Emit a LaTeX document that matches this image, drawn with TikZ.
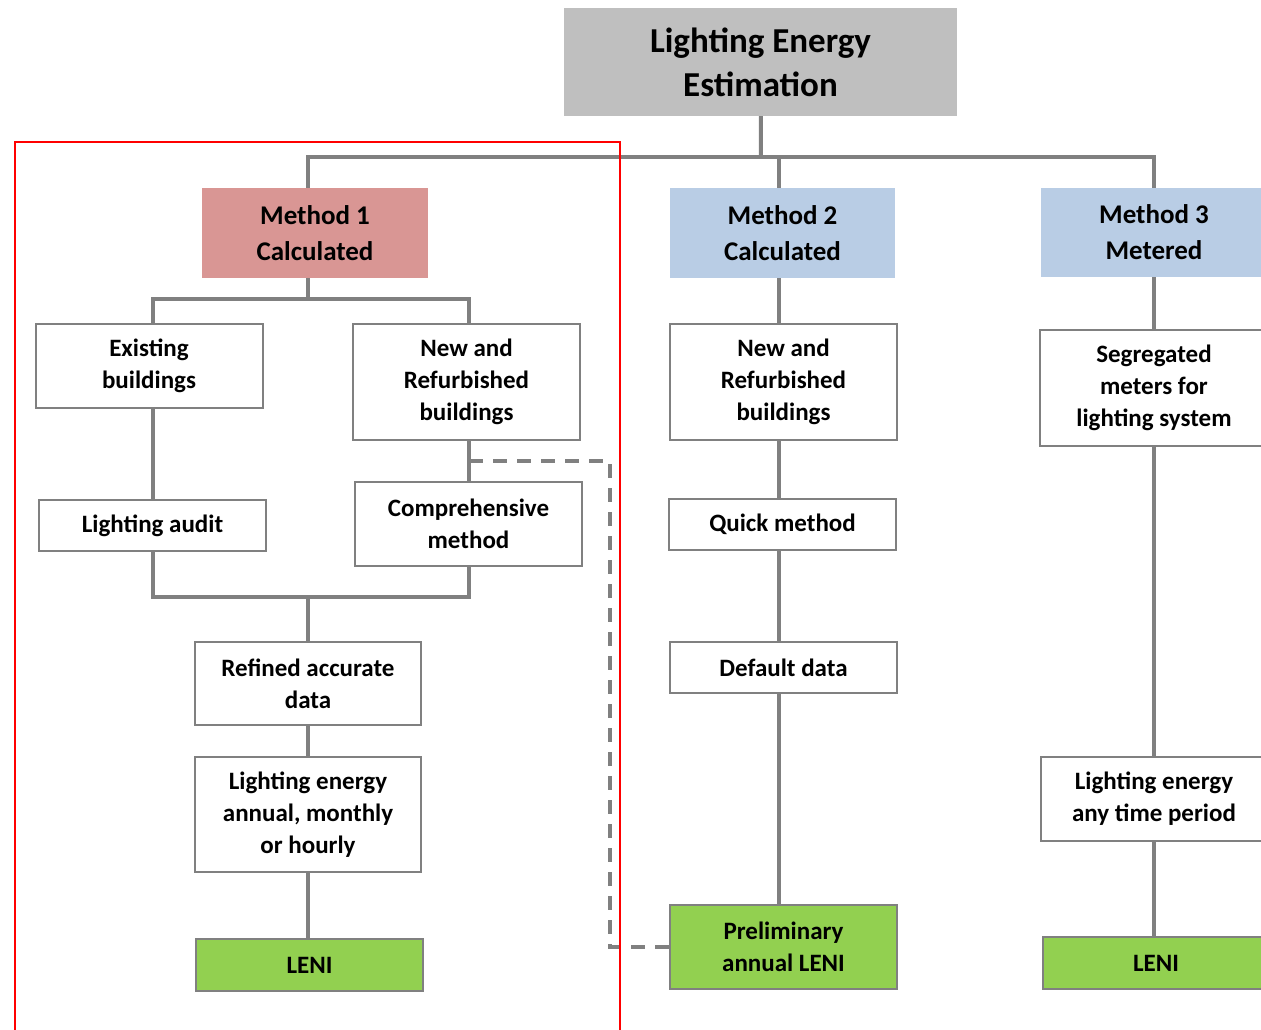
\documentclass[tikz,border=0pt]{standalone}
\usepackage{fontspec}
\setmainfont{Carlito}
\usetikzlibrary{positioning}
\definecolor{linegray}{RGB}{128,128,128}
\definecolor{titlegray}{RGB}{191,191,191}
\definecolor{methodred}{RGB}{217,150,148}
\definecolor{methodblue}{RGB}{185,205,229}
\definecolor{leniGreen}{RGB}{146,208,80}
\tikzset{
  title/.style={rectangle, minimum width=393pt, minimum height=108pt, inner sep=0pt, fill=titlegray, align=center, font=\fontsize{35}{44}\selectfont\bfseries},
  method/.style={rectangle, minimum width=226pt, minimum height=90pt, inner sep=0pt, align=center, font=\fontsize{27}{36}\selectfont\bfseries},
  box/.style={rectangle, draw=linegray, line width=2pt, fill=white, minimum width=227pt, inner sep=0pt, align=center, font=\fontsize{25}{32}\selectfont\bfseries},
  leni/.style={box, fill=leniGreen},
  link/.style={draw=linegray, line width=4pt},
  optional/.style={link, dash pattern=on 14pt off 10pt},
  frame/.style={draw=red, line width=1.5pt}
}

\begin{document}
\begin{tikzpicture}[x=1pt, y=-1pt]
\useasboundingbox (0,0) rectangle (1261,1030);
\clip (0,0) rectangle (1261,1030);

\node (title) [title] at (760.5,62) {Lighting Energy\\Estimation};

\node (m1) [method, fill=methodred] at (315,233) {Method 1\\Calculated};
\node (m2) [method, fill=methodblue, minimum width=225pt] at (782.5,233) {Method 2\\Calculated};
\node (m3) [method, fill=methodblue, minimum height=89pt] at (1154,232.5) {Method 3\\Metered};

% method 1
\node (existing) [box, minimum height=84pt] at (149,366) {Existing\\buildings};
\node (newref) [box, minimum height=116pt] at (466.5,382) {New and\\Refurbished\\buildings};
\node (audit) [box, minimum height=51pt] at (152.5,525.5) {Lighting audit};
\node (comp) [box, minimum height=84pt] at (468.5,524) {Comprehensive\\method};
\node (refined) [box, minimum width=226pt, minimum height=83pt] at (308,683.5) {Refined accurate\\data};
\node (energy) [box, minimum width=226pt, minimum height=115pt] at (308,814.5) {Lighting energy\\annual, monthly\\or hourly};
\node (leni1) [leni, minimum height=52pt] at (309.5,965) {LENI};

% method 2
\node (nb2) [box, minimum height=116pt] at (783.5,382) {New and\\Refurbished\\buildings};
\node (quick) [box, minimum height=51pt] at (782.5,524.5) {Quick method};
\node (default) [box, minimum height=51pt] at (783.5,667.5) {Default data};
\node (prelim) [leni, minimum height=84pt] at (783.5,947) {Preliminary\\annual LENI};

% method 3
\node (meters) [box, minimum width=228pt, minimum height=116pt] at (1154,388) {Segregated\\meters for\\lighting system};
\node (period) [box, minimum width=226pt, minimum height=84pt] at (1154,799) {Lighting energy\\any time period};
\node (leni3) [leni, minimum width=226pt, minimum height=52pt] at (1156,963) {LENI};

\coordinate (bus) at (761,157);
\coordinate (split1) at (308,299);
\coordinate (join1) at (308,597);
\coordinate (trunk2) at (779,157);
\coordinate (dashstart) at (469,461);
\coordinate (dashcorner) at (610,947);

\draw [link] (title) -- (bus);
\draw [link] (m1.north -| refined) |- (bus) -| (m3);
\draw [link] (trunk2) -- (trunk2 |- m2.north);

\draw [link] (m1.south -| refined) -- (split1);
\draw [link] (audit |- existing.north) |- (split1) -| (comp |- newref.north);
\draw [link] (audit |- existing.south) -- (audit);
\draw [link] (comp |- newref.south) -- (comp);
\draw [link] (audit) |- (join1) -| (comp);
\draw [link] (join1) -- (refined);
\draw [link] (refined) -- (energy);
\draw [link] (energy) -- (energy |- leni1.north);

\draw [link] (trunk2 |- m2.south) -- (trunk2 |- nb2.north);
\draw [link] (trunk2 |- nb2.south) -- (trunk2 |- quick.north);
\draw [link] (trunk2 |- quick.south) -- (trunk2 |- default.north);
\draw [link] (trunk2 |- default.south) -- (trunk2 |- prelim.north);

\draw [link] (m3) -- (meters);
\draw [link] (meters) -- (period);
\draw [link] (period) -- (period |- leni3.north);

\draw [optional] (dashstart) -| (dashcorner) -- (prelim.west);

\draw [frame] (15,1040) |- (620,142) -- (620,1040);

\end{tikzpicture}
\end{document}
